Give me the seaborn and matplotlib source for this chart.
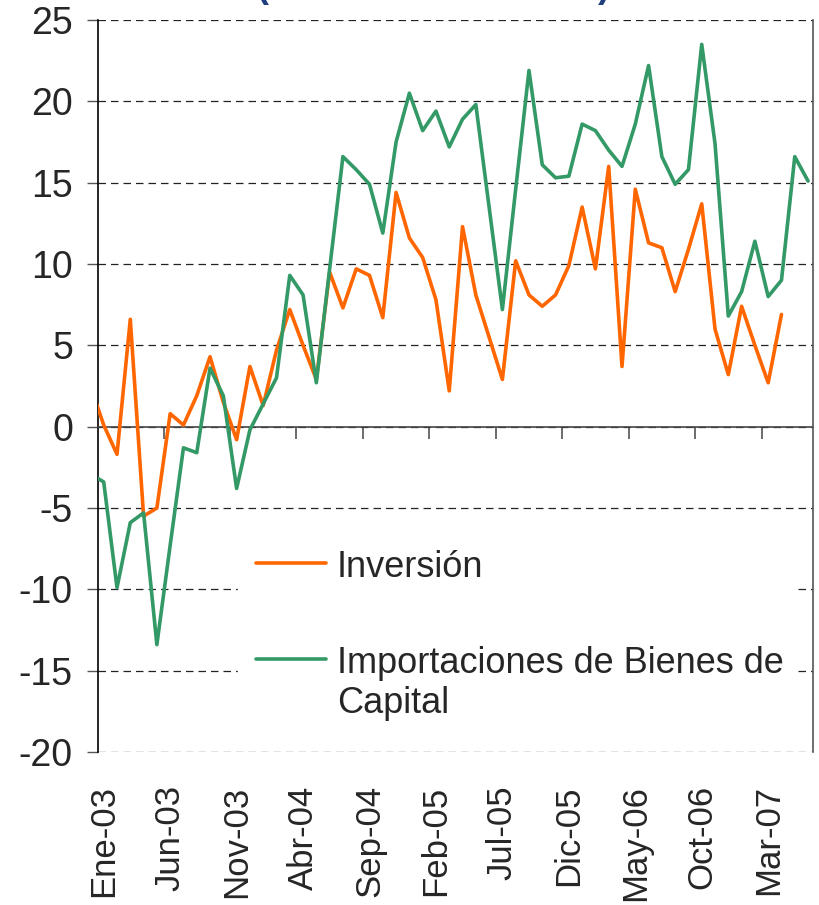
import numpy as np
import pandas as pd
import matplotlib
matplotlib.use("Agg")
import matplotlib.pyplot as plt
import seaborn as sns

# month labels (Dic-02 is only partly visible at the left edge)
meses = ["Ene", "Feb", "Mar", "Abr", "May", "Jun", "Jul", "Ago", "Sep", "Oct", "Nov", "Dic"]
months = ["Dic-02"] + [f"{m}-{y:02d}" for y in range(3, 8) for m in meses][:54]

inversion = [2.5, 0.1, -1.7, 6.6, -5.5, -5.0, 0.8, 0.1, 1.9, 4.3, 1.5, -0.8, 3.7,
             1.3, 4.7, 7.2, 5.0, 2.9, 9.5, 7.3, 9.7, 9.3, 6.7, 14.4, 11.6,
             10.4, 7.8, 2.2, 12.3, 8.1, 5.5, 2.9, 10.2, 8.1, 7.4, 8.1, 9.9,
             13.5, 9.7, 16.0, 3.7, 14.6, 11.3, 11.0, 8.3, 10.9, 13.7, 6.0, 3.2,
             7.4, 5.0, 2.7, 6.9, np.nan, np.nan]

importaciones = [-2.9, -3.4, -9.9, -5.9, -5.3, -13.4, -7.3, -1.3, -1.6, 3.6, 1.9, -3.8, -0.2,
                 1.4, 3.0, 9.3, 8.1, 2.7, 9.7, 16.6, 15.8, 14.9, 11.9, 17.5, 20.5,
                 18.2, 19.4, 17.2, 18.9, 19.8, 13.5, 7.2, 14.6, 21.9, 16.1, 15.3, 15.4,
                 18.6, 18.2, 17.0, 16.0, 18.6, 22.2, 16.6, 14.9, 15.8, 23.5, 17.4, 6.8,
                 8.3, 11.4, 8.0, 9.0, 16.6, 15.1]

pos = np.arange(len(months)) - 1  # Ene-03 -> 0
df = pd.DataFrame({"pos": pos, "mes": months,
                   "Inversión": inversion,
                   "Importaciones de Bienes de\nCapital": importaciones})

sns.set_style("white")
plt.rcParams["font.family"] = ["Liberation Sans", "DejaVu Sans"]
plt.rcParams["axes.unicode_minus"] = False

fig = plt.figure(figsize=(8.2, 9.05), dpi=100)
ax = fig.add_axes([98 / 820, 1 - 752 / 905, 714.7 / 820, 732 / 905])

sns.lineplot(data=df, x="pos", y="Inversión", color="#FF6600", linewidth=2.6,
             label="Inversión", ax=ax, zorder=3)
sns.lineplot(data=df, x="pos", y="Importaciones de Bienes de\nCapital", color="#339966",
             linewidth=2.6, label="Importaciones de Bienes de\nCapital", ax=ax, zorder=3)

ax.set_xlim(-0.43, 53.35)
ax.set_ylim(-20, 25)
ax.set_yticks(np.arange(-20, 26, 5))
ax.yaxis.grid(True, linestyle=(0, (6, 4)), color="#222222", linewidth=0.9)
ax.set_axisbelow(True)
ax.set_xlabel("")
ax.set_ylabel("")

# spines
ax.spines["top"].set_visible(False)
ax.spines["left"].set_color("black")
ax.spines["left"].set_linewidth(1.2)
ax.spines["right"].set_color("#555555")
ax.spines["right"].set_linewidth(1.2)
ax.spines["right"].set_zorder(10)
ax.spines["bottom"].set_position(("data", 0))
ax.spines["bottom"].set_color("#444444")
ax.spines["bottom"].set_linewidth(1.2)

# tick marks between groups of 5 months on the zero line
ax.set_xticks([])
ax.set_xticks(np.arange(4.5, 50, 5), minor=True)
ax.tick_params(axis="x", which="minor", direction="out", length=8.5, width=1.1,
               color="#444444", labelbottom=False, bottom=True)
ax.tick_params(axis="y", direction="out", length=8, width=1, color="#555555",
               labelsize=27, pad=10, left=True)

# month labels at the bottom of the plot
lab_pos = np.arange(0, 51, 5)
secax = ax.secondary_xaxis("bottom")
secax.set_xticks(lab_pos, labels=[months[p + 1] for p in lab_pos])
secax.tick_params(axis="x", length=0, labelsize=25, rotation=90, pad=24)
secax.spines["bottom"].set_visible(False)

leg = ax.legend(loc="upper left", bbox_to_anchor=(0.17, 0.0, 0.83, 0.325), mode="expand",
                fontsize=26, frameon=True, fancybox=False, framealpha=1,
                handlelength=1.95, handletextpad=0.3, labelspacing=1.68, borderpad=0.5)
leg.get_frame().set_facecolor("white")
leg.get_frame().set_edgecolor("white")
for line in leg.get_lines():
    line.set_linewidth(2.6)
# put the handle next to the first line of the two-line label
try:
    for col in leg._legend_handle_box.get_children():
        for item in col.get_children():
            item.align = "top"
except AttributeError:
    pass

# bottom of the cut-off title
fig.text(262 / 820, 1 + 3 / 905, "(", color="#1F3F7F", fontsize=26, fontweight="bold",
         ha="center", va="baseline")
fig.text(604 / 820, 1 + 3 / 905, ")", color="#1F3F7F", fontsize=26, fontweight="bold",
         ha="center", va="baseline")

fig.savefig("out.png", dpi=100)
